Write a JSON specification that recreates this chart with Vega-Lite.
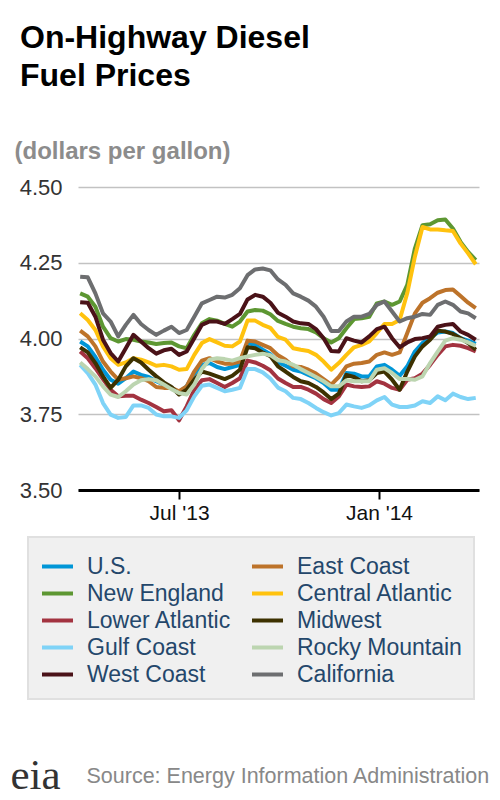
{
  "$schema": "https://vega.github.io/schema/vega-lite/v6.json",
  "width": 401,
  "height": 303,
  "autosize": {"type": "none"},
  "padding": {"left": 78, "top": 187, "right": 21, "bottom": 310},
  "background": "white",
  "title": {
    "text": ["On-Highway Diesel", "Fuel Prices"],
    "anchor": "start",
    "frame": "group",
    "dx": -58,
    "offset": 46,
    "font": "Liberation Sans",
    "fontSize": 32,
    "fontWeight": "bold",
    "color": "#000000",
    "lineHeight": 38
  },
  "datasets": {
    "prices": [
      {"date":"2013-04-01","region":"U.S.","price":3.990},{"date":"2013-04-08","region":"U.S.","price":3.974},{"date":"2013-04-15","region":"U.S.","price":3.939},{"date":"2013-04-22","region":"U.S.","price":3.897},{"date":"2013-04-29","region":"U.S.","price":3.864},{"date":"2013-05-06","region":"U.S.","price":3.851},{"date":"2013-05-13","region":"U.S.","price":3.869},{"date":"2013-05-20","region":"U.S.","price":3.891},{"date":"2013-05-27","region":"U.S.","price":3.880},{"date":"2013-06-03","region":"U.S.","price":3.873},{"date":"2013-06-10","region":"U.S.","price":3.859},{"date":"2013-06-17","region":"U.S.","price":3.848},{"date":"2013-06-24","region":"U.S.","price":3.837},{"date":"2013-07-01","region":"U.S.","price":3.822},{"date":"2013-07-08","region":"U.S.","price":3.842},{"date":"2013-07-15","region":"U.S.","price":3.884},{"date":"2013-07-22","region":"U.S.","price":3.913},{"date":"2013-07-29","region":"U.S.","price":3.919},{"date":"2013-08-05","region":"U.S.","price":3.906},{"date":"2013-08-12","region":"U.S.","price":3.899},{"date":"2013-08-19","region":"U.S.","price":3.906},{"date":"2013-08-26","region":"U.S.","price":3.913},{"date":"2013-09-02","region":"U.S.","price":3.985},{"date":"2013-09-09","region":"U.S.","price":3.979},{"date":"2013-09-16","region":"U.S.","price":3.963},{"date":"2013-09-23","region":"U.S.","price":3.948},{"date":"2013-09-30","region":"U.S.","price":3.922},{"date":"2013-10-07","region":"U.S.","price":3.910},{"date":"2013-10-14","region":"U.S.","price":3.897},{"date":"2013-10-21","region":"U.S.","price":3.891},{"date":"2013-10-28","region":"U.S.","price":3.880},{"date":"2013-11-04","region":"U.S.","price":3.869},{"date":"2013-11-11","region":"U.S.","price":3.853},{"date":"2013-11-18","region":"U.S.","price":3.831},{"date":"2013-11-25","region":"U.S.","price":3.831},{"date":"2013-12-02","region":"U.S.","price":3.886},{"date":"2013-12-09","region":"U.S.","price":3.884},{"date":"2013-12-16","region":"U.S.","price":3.875},{"date":"2013-12-23","region":"U.S.","price":3.875},{"date":"2013-12-30","region":"U.S.","price":3.908},{"date":"2014-01-06","region":"U.S.","price":3.913},{"date":"2014-01-13","region":"U.S.","price":3.897},{"date":"2014-01-20","region":"U.S.","price":3.877},{"date":"2014-01-27","region":"U.S.","price":3.908},{"date":"2014-02-03","region":"U.S.","price":3.957},{"date":"2014-02-10","region":"U.S.","price":3.985},{"date":"2014-02-17","region":"U.S.","price":4.001},{"date":"2014-02-24","region":"U.S.","price":4.020},{"date":"2014-03-03","region":"U.S.","price":4.023},{"date":"2014-03-10","region":"U.S.","price":4.018},{"date":"2014-03-17","region":"U.S.","price":4.001},{"date":"2014-03-24","region":"U.S.","price":3.993},{"date":"2014-03-31","region":"U.S.","price":3.982},
      {"date":"2013-04-01","region":"East Coast","price":4.026},{"date":"2013-04-08","region":"East Coast","price":4.007},{"date":"2013-04-15","region":"East Coast","price":3.974},{"date":"2013-04-22","region":"East Coast","price":3.924},{"date":"2013-04-29","region":"East Coast","price":3.891},{"date":"2013-05-06","region":"East Coast","price":3.864},{"date":"2013-05-13","region":"East Coast","price":3.869},{"date":"2013-05-20","region":"East Coast","price":3.875},{"date":"2013-05-27","region":"East Coast","price":3.869},{"date":"2013-06-03","region":"East Coast","price":3.859},{"date":"2013-06-10","region":"East Coast","price":3.840},{"date":"2013-06-17","region":"East Coast","price":3.837},{"date":"2013-06-24","region":"East Coast","price":3.837},{"date":"2013-07-01","region":"East Coast","price":3.826},{"date":"2013-07-08","region":"East Coast","price":3.842},{"date":"2013-07-15","region":"East Coast","price":3.891},{"date":"2013-07-22","region":"East Coast","price":3.927},{"date":"2013-07-29","region":"East Coast","price":3.935},{"date":"2013-08-05","region":"East Coast","price":3.924},{"date":"2013-08-12","region":"East Coast","price":3.917},{"date":"2013-08-19","region":"East Coast","price":3.917},{"date":"2013-08-26","region":"East Coast","price":3.924},{"date":"2013-09-02","region":"East Coast","price":3.993},{"date":"2013-09-09","region":"East Coast","price":3.990},{"date":"2013-09-16","region":"East Coast","price":3.979},{"date":"2013-09-23","region":"East Coast","price":3.968},{"date":"2013-09-30","region":"East Coast","price":3.945},{"date":"2013-10-07","region":"East Coast","price":3.930},{"date":"2013-10-14","region":"East Coast","price":3.908},{"date":"2013-10-21","region":"East Coast","price":3.906},{"date":"2013-10-28","region":"East Coast","price":3.897},{"date":"2013-11-04","region":"East Coast","price":3.884},{"date":"2013-11-11","region":"East Coast","price":3.866},{"date":"2013-11-18","region":"East Coast","price":3.848},{"date":"2013-11-25","region":"East Coast","price":3.873},{"date":"2013-12-02","region":"East Coast","price":3.908},{"date":"2013-12-09","region":"East Coast","price":3.917},{"date":"2013-12-16","region":"East Coast","price":3.919},{"date":"2013-12-23","region":"East Coast","price":3.924},{"date":"2013-12-30","region":"East Coast","price":3.946},{"date":"2014-01-06","region":"East Coast","price":3.954},{"date":"2014-01-13","region":"East Coast","price":3.946},{"date":"2014-01-20","region":"East Coast","price":3.954},{"date":"2014-01-27","region":"East Coast","price":4.018},{"date":"2014-02-03","region":"East Coast","price":4.083},{"date":"2014-02-10","region":"East Coast","price":4.118},{"date":"2014-02-17","region":"East Coast","price":4.133},{"date":"2014-02-24","region":"East Coast","price":4.151},{"date":"2014-03-03","region":"East Coast","price":4.160},{"date":"2014-03-10","region":"East Coast","price":4.162},{"date":"2014-03-17","region":"East Coast","price":4.140},{"date":"2014-03-24","region":"East Coast","price":4.118},{"date":"2014-03-31","region":"East Coast","price":4.100},
      {"date":"2013-04-01","region":"New England","price":4.149},{"date":"2013-04-08","region":"New England","price":4.138},{"date":"2013-04-15","region":"New England","price":4.105},{"date":"2013-04-22","region":"New England","price":4.039},{"date":"2013-04-29","region":"New England","price":4.001},{"date":"2013-05-06","region":"New England","price":3.990},{"date":"2013-05-13","region":"New England","price":3.998},{"date":"2013-05-20","region":"New England","price":3.996},{"date":"2013-05-27","region":"New England","price":3.990},{"date":"2013-06-03","region":"New England","price":3.987},{"date":"2013-06-10","region":"New England","price":3.982},{"date":"2013-06-17","region":"New England","price":3.985},{"date":"2013-06-24","region":"New England","price":3.987},{"date":"2013-07-01","region":"New England","price":3.974},{"date":"2013-07-08","region":"New England","price":3.968},{"date":"2013-07-15","region":"New England","price":4.012},{"date":"2013-07-22","region":"New England","price":4.050},{"date":"2013-07-29","region":"New England","price":4.064},{"date":"2013-08-05","region":"New England","price":4.059},{"date":"2013-08-12","region":"New England","price":4.048},{"date":"2013-08-19","region":"New England","price":4.039},{"date":"2013-08-26","region":"New England","price":4.056},{"date":"2013-09-02","region":"New England","price":4.089},{"date":"2013-09-09","region":"New England","price":4.094},{"date":"2013-09-16","region":"New England","price":4.092},{"date":"2013-09-23","region":"New England","price":4.080},{"date":"2013-09-30","region":"New England","price":4.058},{"date":"2013-10-07","region":"New England","price":4.048},{"date":"2013-10-14","region":"New England","price":4.039},{"date":"2013-10-21","region":"New England","price":4.034},{"date":"2013-10-28","region":"New England","price":4.031},{"date":"2013-11-04","region":"New England","price":4.020},{"date":"2013-11-11","region":"New England","price":4.001},{"date":"2013-11-18","region":"New England","price":3.987},{"date":"2013-11-25","region":"New England","price":4.001},{"date":"2013-12-02","region":"New England","price":4.034},{"date":"2013-12-09","region":"New England","price":4.064},{"date":"2013-12-16","region":"New England","price":4.067},{"date":"2013-12-23","region":"New England","price":4.072},{"date":"2013-12-30","region":"New England","price":4.116},{"date":"2014-01-06","region":"New England","price":4.122},{"date":"2014-01-13","region":"New England","price":4.111},{"date":"2014-01-20","region":"New England","price":4.122},{"date":"2014-01-27","region":"New England","price":4.177},{"date":"2014-02-03","region":"New England","price":4.297},{"date":"2014-02-10","region":"New England","price":4.374},{"date":"2014-02-17","region":"New England","price":4.377},{"date":"2014-02-24","region":"New England","price":4.390},{"date":"2014-03-03","region":"New England","price":4.393},{"date":"2014-03-10","region":"New England","price":4.363},{"date":"2014-03-17","region":"New England","price":4.319},{"date":"2014-03-24","region":"New England","price":4.286},{"date":"2014-03-31","region":"New England","price":4.259},
      {"date":"2013-04-01","region":"Central Atlantic","price":4.083},{"date":"2013-04-08","region":"Central Atlantic","price":4.061},{"date":"2013-04-15","region":"Central Atlantic","price":4.028},{"date":"2013-04-22","region":"Central Atlantic","price":3.974},{"date":"2013-04-29","region":"Central Atlantic","price":3.935},{"date":"2013-05-06","region":"Central Atlantic","price":3.913},{"date":"2013-05-13","region":"Central Atlantic","price":3.921},{"date":"2013-05-20","region":"Central Atlantic","price":3.935},{"date":"2013-05-27","region":"Central Atlantic","price":3.930},{"date":"2013-06-03","region":"Central Atlantic","price":3.921},{"date":"2013-06-10","region":"Central Atlantic","price":3.910},{"date":"2013-06-17","region":"Central Atlantic","price":3.913},{"date":"2013-06-24","region":"Central Atlantic","price":3.908},{"date":"2013-07-01","region":"Central Atlantic","price":3.897},{"date":"2013-07-08","region":"Central Atlantic","price":3.899},{"date":"2013-07-15","region":"Central Atlantic","price":3.946},{"date":"2013-07-22","region":"Central Atlantic","price":3.985},{"date":"2013-07-29","region":"Central Atlantic","price":3.998},{"date":"2013-08-05","region":"Central Atlantic","price":3.987},{"date":"2013-08-12","region":"Central Atlantic","price":3.976},{"date":"2013-08-19","region":"Central Atlantic","price":3.974},{"date":"2013-08-26","region":"Central Atlantic","price":3.990},{"date":"2013-09-02","region":"Central Atlantic","price":4.059},{"date":"2013-09-09","region":"Central Atlantic","price":4.059},{"date":"2013-09-16","region":"Central Atlantic","price":4.045},{"date":"2013-09-23","region":"Central Atlantic","price":4.035},{"date":"2013-09-30","region":"Central Atlantic","price":4.005},{"date":"2013-10-07","region":"Central Atlantic","price":3.996},{"date":"2013-10-14","region":"Central Atlantic","price":3.968},{"date":"2013-10-21","region":"Central Atlantic","price":3.963},{"date":"2013-10-28","region":"Central Atlantic","price":3.959},{"date":"2013-11-04","region":"Central Atlantic","price":3.946},{"date":"2013-11-11","region":"Central Atlantic","price":3.924},{"date":"2013-11-18","region":"Central Atlantic","price":3.897},{"date":"2013-11-25","region":"Central Atlantic","price":3.919},{"date":"2013-12-02","region":"Central Atlantic","price":3.946},{"date":"2013-12-09","region":"Central Atlantic","price":3.971},{"date":"2013-12-16","region":"Central Atlantic","price":3.979},{"date":"2013-12-23","region":"Central Atlantic","price":3.990},{"date":"2013-12-30","region":"Central Atlantic","price":4.018},{"date":"2014-01-06","region":"Central Atlantic","price":4.048},{"date":"2014-01-13","region":"Central Atlantic","price":4.048},{"date":"2014-01-20","region":"Central Atlantic","price":4.061},{"date":"2014-01-27","region":"Central Atlantic","price":4.150},{"date":"2014-02-03","region":"Central Atlantic","price":4.270},{"date":"2014-02-10","region":"Central Atlantic","price":4.368},{"date":"2014-02-17","region":"Central Atlantic","price":4.360},{"date":"2014-02-24","region":"Central Atlantic","price":4.360},{"date":"2014-03-03","region":"Central Atlantic","price":4.357},{"date":"2014-03-10","region":"Central Atlantic","price":4.355},{"date":"2014-03-17","region":"Central Atlantic","price":4.314},{"date":"2014-03-24","region":"Central Atlantic","price":4.281},{"date":"2014-03-31","region":"Central Atlantic","price":4.245},
      {"date":"2013-04-01","region":"Lower Atlantic","price":3.957},{"date":"2013-04-08","region":"Lower Atlantic","price":3.935},{"date":"2013-04-15","region":"Lower Atlantic","price":3.902},{"date":"2013-04-22","region":"Lower Atlantic","price":3.866},{"date":"2013-04-29","region":"Lower Atlantic","price":3.831},{"date":"2013-05-06","region":"Lower Atlantic","price":3.809},{"date":"2013-05-13","region":"Lower Atlantic","price":3.811},{"date":"2013-05-20","region":"Lower Atlantic","price":3.811},{"date":"2013-05-27","region":"Lower Atlantic","price":3.798},{"date":"2013-06-03","region":"Lower Atlantic","price":3.787},{"date":"2013-06-10","region":"Lower Atlantic","price":3.774},{"date":"2013-06-17","region":"Lower Atlantic","price":3.760},{"date":"2013-06-24","region":"Lower Atlantic","price":3.763},{"date":"2013-07-01","region":"Lower Atlantic","price":3.730},{"date":"2013-07-08","region":"Lower Atlantic","price":3.776},{"date":"2013-07-15","region":"Lower Atlantic","price":3.831},{"date":"2013-07-22","region":"Lower Atlantic","price":3.862},{"date":"2013-07-29","region":"Lower Atlantic","price":3.866},{"date":"2013-08-05","region":"Lower Atlantic","price":3.853},{"date":"2013-08-12","region":"Lower Atlantic","price":3.840},{"date":"2013-08-19","region":"Lower Atlantic","price":3.853},{"date":"2013-08-26","region":"Lower Atlantic","price":3.869},{"date":"2013-09-02","region":"Lower Atlantic","price":3.927},{"date":"2013-09-09","region":"Lower Atlantic","price":3.921},{"date":"2013-09-16","region":"Lower Atlantic","price":3.910},{"date":"2013-09-23","region":"Lower Atlantic","price":3.895},{"date":"2013-09-30","region":"Lower Atlantic","price":3.868},{"date":"2013-10-07","region":"Lower Atlantic","price":3.853},{"date":"2013-10-14","region":"Lower Atlantic","price":3.840},{"date":"2013-10-21","region":"Lower Atlantic","price":3.840},{"date":"2013-10-28","region":"Lower Atlantic","price":3.831},{"date":"2013-11-04","region":"Lower Atlantic","price":3.818},{"date":"2013-11-11","region":"Lower Atlantic","price":3.800},{"date":"2013-11-18","region":"Lower Atlantic","price":3.787},{"date":"2013-11-25","region":"Lower Atlantic","price":3.809},{"date":"2013-12-02","region":"Lower Atlantic","price":3.848},{"date":"2013-12-09","region":"Lower Atlantic","price":3.842},{"date":"2013-12-16","region":"Lower Atlantic","price":3.840},{"date":"2013-12-23","region":"Lower Atlantic","price":3.842},{"date":"2013-12-30","region":"Lower Atlantic","price":3.859},{"date":"2014-01-06","region":"Lower Atlantic","price":3.851},{"date":"2014-01-13","region":"Lower Atlantic","price":3.837},{"date":"2014-01-20","region":"Lower Atlantic","price":3.831},{"date":"2014-01-27","region":"Lower Atlantic","price":3.864},{"date":"2014-02-03","region":"Lower Atlantic","price":3.869},{"date":"2014-02-10","region":"Lower Atlantic","price":3.884},{"date":"2014-02-17","region":"Lower Atlantic","price":3.913},{"date":"2014-02-24","region":"Lower Atlantic","price":3.946},{"date":"2014-03-03","region":"Lower Atlantic","price":3.974},{"date":"2014-03-10","region":"Lower Atlantic","price":3.979},{"date":"2014-03-17","region":"Lower Atlantic","price":3.976},{"date":"2014-03-24","region":"Lower Atlantic","price":3.968},{"date":"2014-03-31","region":"Lower Atlantic","price":3.957},
      {"date":"2013-04-01","region":"Midwest","price":3.971},{"date":"2013-04-08","region":"Midwest","price":3.954},{"date":"2013-04-15","region":"Midwest","price":3.919},{"date":"2013-04-22","region":"Midwest","price":3.875},{"date":"2013-04-29","region":"Midwest","price":3.837},{"date":"2013-05-06","region":"Midwest","price":3.864},{"date":"2013-05-13","region":"Midwest","price":3.908},{"date":"2013-05-20","region":"Midwest","price":3.935},{"date":"2013-05-27","region":"Midwest","price":3.921},{"date":"2013-06-03","region":"Midwest","price":3.897},{"date":"2013-06-10","region":"Midwest","price":3.875},{"date":"2013-06-17","region":"Midwest","price":3.855},{"date":"2013-06-24","region":"Midwest","price":3.840},{"date":"2013-07-01","region":"Midwest","price":3.815},{"date":"2013-07-08","region":"Midwest","price":3.831},{"date":"2013-07-15","region":"Midwest","price":3.864},{"date":"2013-07-22","region":"Midwest","price":3.891},{"date":"2013-07-29","region":"Midwest","price":3.884},{"date":"2013-08-05","region":"Midwest","price":3.875},{"date":"2013-08-12","region":"Midwest","price":3.866},{"date":"2013-08-19","region":"Midwest","price":3.877},{"date":"2013-08-26","region":"Midwest","price":3.897},{"date":"2013-09-02","region":"Midwest","price":3.971},{"date":"2013-09-09","region":"Midwest","price":3.968},{"date":"2013-09-16","region":"Midwest","price":3.954},{"date":"2013-09-23","region":"Midwest","price":3.942},{"date":"2013-09-30","region":"Midwest","price":3.908},{"date":"2013-10-07","region":"Midwest","price":3.891},{"date":"2013-10-14","region":"Midwest","price":3.873},{"date":"2013-10-21","region":"Midwest","price":3.859},{"date":"2013-10-28","region":"Midwest","price":3.853},{"date":"2013-11-04","region":"Midwest","price":3.840},{"date":"2013-11-11","region":"Midwest","price":3.822},{"date":"2013-11-18","region":"Midwest","price":3.800},{"date":"2013-11-25","region":"Midwest","price":3.818},{"date":"2013-12-02","region":"Midwest","price":3.880},{"date":"2013-12-09","region":"Midwest","price":3.873},{"date":"2013-12-16","region":"Midwest","price":3.859},{"date":"2013-12-23","region":"Midwest","price":3.862},{"date":"2013-12-30","region":"Midwest","price":3.886},{"date":"2014-01-06","region":"Midwest","price":3.891},{"date":"2014-01-13","region":"Midwest","price":3.864},{"date":"2014-01-20","region":"Midwest","price":3.831},{"date":"2014-01-27","region":"Midwest","price":3.891},{"date":"2014-02-03","region":"Midwest","price":3.941},{"date":"2014-02-10","region":"Midwest","price":3.974},{"date":"2014-02-17","region":"Midwest","price":3.996},{"date":"2014-02-24","region":"Midwest","price":4.026},{"date":"2014-03-03","region":"Midwest","price":4.023},{"date":"2014-03-10","region":"Midwest","price":4.015},{"date":"2014-03-17","region":"Midwest","price":4.001},{"date":"2014-03-24","region":"Midwest","price":3.985},{"date":"2014-03-31","region":"Midwest","price":3.963},
      {"date":"2013-04-01","region":"Gulf Coast","price":3.913},{"date":"2013-04-08","region":"Gulf Coast","price":3.886},{"date":"2013-04-15","region":"Gulf Coast","price":3.848},{"date":"2013-04-22","region":"Gulf Coast","price":3.787},{"date":"2013-04-29","region":"Gulf Coast","price":3.749},{"date":"2013-05-06","region":"Gulf Coast","price":3.738},{"date":"2013-05-13","region":"Gulf Coast","price":3.741},{"date":"2013-05-20","region":"Gulf Coast","price":3.779},{"date":"2013-05-27","region":"Gulf Coast","price":3.779},{"date":"2013-06-03","region":"Gulf Coast","price":3.771},{"date":"2013-06-10","region":"Gulf Coast","price":3.749},{"date":"2013-06-17","region":"Gulf Coast","price":3.743},{"date":"2013-06-24","region":"Gulf Coast","price":3.743},{"date":"2013-07-01","region":"Gulf Coast","price":3.738},{"date":"2013-07-08","region":"Gulf Coast","price":3.763},{"date":"2013-07-15","region":"Gulf Coast","price":3.809},{"date":"2013-07-22","region":"Gulf Coast","price":3.844},{"date":"2013-07-29","region":"Gulf Coast","price":3.848},{"date":"2013-08-05","region":"Gulf Coast","price":3.837},{"date":"2013-08-12","region":"Gulf Coast","price":3.826},{"date":"2013-08-19","region":"Gulf Coast","price":3.831},{"date":"2013-08-26","region":"Gulf Coast","price":3.837},{"date":"2013-09-02","region":"Gulf Coast","price":3.899},{"date":"2013-09-09","region":"Gulf Coast","price":3.899},{"date":"2013-09-16","region":"Gulf Coast","price":3.888},{"date":"2013-09-23","region":"Gulf Coast","price":3.868},{"date":"2013-09-30","region":"Gulf Coast","price":3.838},{"date":"2013-10-07","region":"Gulf Coast","price":3.826},{"date":"2013-10-14","region":"Gulf Coast","price":3.804},{"date":"2013-10-21","region":"Gulf Coast","price":3.800},{"date":"2013-10-28","region":"Gulf Coast","price":3.787},{"date":"2013-11-04","region":"Gulf Coast","price":3.771},{"date":"2013-11-11","region":"Gulf Coast","price":3.757},{"date":"2013-11-18","region":"Gulf Coast","price":3.746},{"date":"2013-11-25","region":"Gulf Coast","price":3.754},{"date":"2013-12-02","region":"Gulf Coast","price":3.782},{"date":"2013-12-09","region":"Gulf Coast","price":3.776},{"date":"2013-12-16","region":"Gulf Coast","price":3.771},{"date":"2013-12-23","region":"Gulf Coast","price":3.779},{"date":"2013-12-30","region":"Gulf Coast","price":3.796},{"date":"2014-01-06","region":"Gulf Coast","price":3.807},{"date":"2014-01-13","region":"Gulf Coast","price":3.782},{"date":"2014-01-20","region":"Gulf Coast","price":3.774},{"date":"2014-01-27","region":"Gulf Coast","price":3.774},{"date":"2014-02-03","region":"Gulf Coast","price":3.779},{"date":"2014-02-10","region":"Gulf Coast","price":3.793},{"date":"2014-02-17","region":"Gulf Coast","price":3.787},{"date":"2014-02-24","region":"Gulf Coast","price":3.809},{"date":"2014-03-03","region":"Gulf Coast","price":3.796},{"date":"2014-03-10","region":"Gulf Coast","price":3.818},{"date":"2014-03-17","region":"Gulf Coast","price":3.807},{"date":"2014-03-24","region":"Gulf Coast","price":3.800},{"date":"2014-03-31","region":"Gulf Coast","price":3.804},
      {"date":"2013-04-01","region":"Rocky Mountain","price":3.921},{"date":"2013-04-08","region":"Rocky Mountain","price":3.899},{"date":"2013-04-15","region":"Rocky Mountain","price":3.875},{"date":"2013-04-22","region":"Rocky Mountain","price":3.842},{"date":"2013-04-29","region":"Rocky Mountain","price":3.815},{"date":"2013-05-06","region":"Rocky Mountain","price":3.807},{"date":"2013-05-13","region":"Rocky Mountain","price":3.826},{"date":"2013-05-20","region":"Rocky Mountain","price":3.848},{"date":"2013-05-27","region":"Rocky Mountain","price":3.862},{"date":"2013-06-03","region":"Rocky Mountain","price":3.866},{"date":"2013-06-10","region":"Rocky Mountain","price":3.862},{"date":"2013-06-17","region":"Rocky Mountain","price":3.848},{"date":"2013-06-24","region":"Rocky Mountain","price":3.833},{"date":"2013-07-01","region":"Rocky Mountain","price":3.820},{"date":"2013-07-08","region":"Rocky Mountain","price":3.815},{"date":"2013-07-15","region":"Rocky Mountain","price":3.848},{"date":"2013-07-22","region":"Rocky Mountain","price":3.899},{"date":"2013-07-29","region":"Rocky Mountain","price":3.930},{"date":"2013-08-05","region":"Rocky Mountain","price":3.935},{"date":"2013-08-12","region":"Rocky Mountain","price":3.932},{"date":"2013-08-19","region":"Rocky Mountain","price":3.927},{"date":"2013-08-26","region":"Rocky Mountain","price":3.935},{"date":"2013-09-02","region":"Rocky Mountain","price":3.941},{"date":"2013-09-09","region":"Rocky Mountain","price":3.946},{"date":"2013-09-16","region":"Rocky Mountain","price":3.950},{"date":"2013-09-23","region":"Rocky Mountain","price":3.945},{"date":"2013-09-30","region":"Rocky Mountain","price":3.928},{"date":"2013-10-07","region":"Rocky Mountain","price":3.924},{"date":"2013-10-14","region":"Rocky Mountain","price":3.913},{"date":"2013-10-21","region":"Rocky Mountain","price":3.899},{"date":"2013-10-28","region":"Rocky Mountain","price":3.886},{"date":"2013-11-04","region":"Rocky Mountain","price":3.873},{"date":"2013-11-11","region":"Rocky Mountain","price":3.859},{"date":"2013-11-18","region":"Rocky Mountain","price":3.842},{"date":"2013-11-25","region":"Rocky Mountain","price":3.842},{"date":"2013-12-02","region":"Rocky Mountain","price":3.862},{"date":"2013-12-09","region":"Rocky Mountain","price":3.859},{"date":"2013-12-16","region":"Rocky Mountain","price":3.859},{"date":"2013-12-23","region":"Rocky Mountain","price":3.859},{"date":"2013-12-30","region":"Rocky Mountain","price":3.897},{"date":"2014-01-06","region":"Rocky Mountain","price":3.902},{"date":"2014-01-13","region":"Rocky Mountain","price":3.886},{"date":"2014-01-20","region":"Rocky Mountain","price":3.866},{"date":"2014-01-27","region":"Rocky Mountain","price":3.866},{"date":"2014-02-03","region":"Rocky Mountain","price":3.864},{"date":"2014-02-10","region":"Rocky Mountain","price":3.875},{"date":"2014-02-17","region":"Rocky Mountain","price":3.919},{"date":"2014-02-24","region":"Rocky Mountain","price":3.957},{"date":"2014-03-03","region":"Rocky Mountain","price":3.993},{"date":"2014-03-10","region":"Rocky Mountain","price":4.001},{"date":"2014-03-17","region":"Rocky Mountain","price":3.996},{"date":"2014-03-24","region":"Rocky Mountain","price":3.987},{"date":"2014-03-31","region":"Rocky Mountain","price":3.976},
      {"date":"2013-04-01","region":"West Coast","price":4.120},{"date":"2013-04-08","region":"West Coast","price":4.118},{"date":"2013-04-15","region":"West Coast","price":4.072},{"date":"2013-04-22","region":"West Coast","price":3.996},{"date":"2013-04-29","region":"West Coast","price":3.952},{"date":"2013-05-06","region":"West Coast","price":3.924},{"date":"2013-05-13","region":"West Coast","price":3.968},{"date":"2013-05-20","region":"West Coast","price":4.012},{"date":"2013-05-27","region":"West Coast","price":3.990},{"date":"2013-06-03","region":"West Coast","price":3.968},{"date":"2013-06-10","region":"West Coast","price":3.950},{"date":"2013-06-17","region":"West Coast","price":3.961},{"date":"2013-06-24","region":"West Coast","price":3.966},{"date":"2013-07-01","region":"West Coast","price":3.946},{"date":"2013-07-08","region":"West Coast","price":3.957},{"date":"2013-07-15","region":"West Coast","price":4.001},{"date":"2013-07-22","region":"West Coast","price":4.045},{"date":"2013-07-29","region":"West Coast","price":4.056},{"date":"2013-08-05","region":"West Coast","price":4.056},{"date":"2013-08-12","region":"West Coast","price":4.048},{"date":"2013-08-19","region":"West Coast","price":4.064},{"date":"2013-08-26","region":"West Coast","price":4.081},{"date":"2013-09-02","region":"West Coast","price":4.129},{"date":"2013-09-09","region":"West Coast","price":4.144},{"date":"2013-09-16","region":"West Coast","price":4.138},{"date":"2013-09-23","region":"West Coast","price":4.118},{"date":"2013-09-30","region":"West Coast","price":4.085},{"date":"2013-10-07","region":"West Coast","price":4.072},{"date":"2013-10-14","region":"West Coast","price":4.056},{"date":"2013-10-21","region":"West Coast","price":4.050},{"date":"2013-10-28","region":"West Coast","price":4.048},{"date":"2013-11-04","region":"West Coast","price":4.031},{"date":"2013-11-11","region":"West Coast","price":4.001},{"date":"2013-11-18","region":"West Coast","price":3.959},{"date":"2013-11-25","region":"West Coast","price":3.957},{"date":"2013-12-02","region":"West Coast","price":4.001},{"date":"2013-12-09","region":"West Coast","price":3.993},{"date":"2013-12-16","region":"West Coast","price":3.987},{"date":"2013-12-23","region":"West Coast","price":4.007},{"date":"2013-12-30","region":"West Coast","price":4.031},{"date":"2014-01-06","region":"West Coast","price":4.039},{"date":"2014-01-13","region":"West Coast","price":4.001},{"date":"2014-01-20","region":"West Coast","price":3.971},{"date":"2014-01-27","region":"West Coast","price":3.987},{"date":"2014-02-03","region":"West Coast","price":3.998},{"date":"2014-02-10","region":"West Coast","price":4.001},{"date":"2014-02-17","region":"West Coast","price":4.007},{"date":"2014-02-24","region":"West Coast","price":4.039},{"date":"2014-03-03","region":"West Coast","price":4.045},{"date":"2014-03-10","region":"West Coast","price":4.048},{"date":"2014-03-17","region":"West Coast","price":4.023},{"date":"2014-03-24","region":"West Coast","price":4.012},{"date":"2014-03-31","region":"West Coast","price":3.996},
      {"date":"2013-04-01","region":"California","price":4.204},{"date":"2013-04-08","region":"California","price":4.202},{"date":"2013-04-15","region":"California","price":4.149},{"date":"2013-04-22","region":"California","price":4.083},{"date":"2013-04-29","region":"California","price":4.056},{"date":"2013-05-06","region":"California","price":4.007},{"date":"2013-05-13","region":"California","price":4.045},{"date":"2013-05-20","region":"California","price":4.078},{"date":"2013-05-27","region":"California","price":4.048},{"date":"2013-06-03","region":"California","price":4.028},{"date":"2013-06-10","region":"California","price":4.012},{"date":"2013-06-17","region":"California","price":4.026},{"date":"2013-06-24","region":"California","price":4.039},{"date":"2013-07-01","region":"California","price":4.018},{"date":"2013-07-08","region":"California","price":4.028},{"date":"2013-07-15","region":"California","price":4.072},{"date":"2013-07-22","region":"California","price":4.116},{"date":"2013-07-29","region":"California","price":4.127},{"date":"2013-08-05","region":"California","price":4.138},{"date":"2013-08-12","region":"California","price":4.135},{"date":"2013-08-19","region":"California","price":4.144},{"date":"2013-08-26","region":"California","price":4.166},{"date":"2013-09-02","region":"California","price":4.209},{"date":"2013-09-09","region":"California","price":4.228},{"date":"2013-09-16","region":"California","price":4.231},{"date":"2013-09-23","region":"California","price":4.225},{"date":"2013-09-30","region":"California","price":4.195},{"date":"2013-10-07","region":"California","price":4.177},{"date":"2013-10-14","region":"California","price":4.149},{"date":"2013-10-21","region":"California","price":4.138},{"date":"2013-10-28","region":"California","price":4.125},{"date":"2013-11-04","region":"California","price":4.105},{"date":"2013-11-11","region":"California","price":4.072},{"date":"2013-11-18","region":"California","price":4.025},{"date":"2013-11-25","region":"California","price":4.025},{"date":"2013-12-02","region":"California","price":4.056},{"date":"2013-12-09","region":"California","price":4.072},{"date":"2013-12-16","region":"California","price":4.072},{"date":"2013-12-23","region":"California","price":4.081},{"date":"2013-12-30","region":"California","price":4.111},{"date":"2014-01-06","region":"California","price":4.122},{"date":"2014-01-13","region":"California","price":4.089},{"date":"2014-01-20","region":"California","price":4.056},{"date":"2014-01-27","region":"California","price":4.067},{"date":"2014-02-03","region":"California","price":4.072},{"date":"2014-02-10","region":"California","price":4.081},{"date":"2014-02-17","region":"California","price":4.078},{"date":"2014-02-24","region":"California","price":4.111},{"date":"2014-03-03","region":"California","price":4.122},{"date":"2014-03-10","region":"California","price":4.111},{"date":"2014-03-17","region":"California","price":4.089},{"date":"2014-03-24","region":"California","price":4.083},{"date":"2014-03-31","region":"California","price":4.067}
    ]
  },
  "data": {"name": "prices"},
  "layer": [
    {
      "mark": {"type": "line", "strokeWidth": 4, "strokeJoin": "round"},
      "encoding": {
        "x": {
          "field": "date",
          "type": "temporal",
          "scale": {"type": "utc", "domain": [{"year": 2013, "month": 3, "date": 30, "utc": true}, {"year": 2014, "month": 4, "date": 3, "utc": true}]},
          "axis": {
            "values": [{"year": 2013, "month": 7, "date": 1, "utc": true}, {"year": 2014, "month": 1, "date": 1, "utc": true}],
            "format": "%b '%y",
            "grid": false,
            "domainColor": "#000000",
            "domainWidth": 3,
            "tickColor": "#000000",
            "tickWidth": 2,
            "tickSize": 9,
            "labelFont": "Liberation Sans",
            "labelFontSize": 21,
            "labelColor": "#111111",
            "labelPadding": 3,
            "title": "Source: Energy Information Administration",
            "titleFont": "Liberation Sans",
            "titleFontSize": 21.5,
            "titleFontWeight": "normal",
            "titleColor": "#888888",
            "titleAlign": "left",
            "titleAnchor": "start",
            "titleBaseline": "alphabetic",
            "titleX": 8,
            "titleY": 292,
            "titleLimit": 1000
          }
        },
        "y": {
          "field": "price",
          "type": "quantitative",
          "scale": {"domain": [3.5, 4.5], "nice": false, "zero": false},
          "axis": {
            "values": [3.5, 3.75, 4, 4.25, 4.5],
            "format": ".2f",
            "grid": true,
            "gridColor": "#c2c2c2",
            "gridWidth": 1.5,
            "domain": false,
            "ticks": false,
            "labelFont": "Liberation Sans",
            "labelFontSize": 22,
            "labelColor": "#333333",
            "labelPadding": 16,
            "title": "(dollars per gallon)",
            "titleFont": "Liberation Sans",
            "titleFontSize": 24,
            "titleFontWeight": "bold",
            "titleColor": "#8c8c8c",
            "titleAngle": 0,
            "titleAlign": "left",
            "titleBaseline": "alphabetic",
            "titleX": -64,
            "titleY": -29,
            "titleLimit": 1000
          }
        },
        "color": {
          "field": "region",
          "type": "nominal",
          "scale": {
            "domain": ["U.S.", "East Coast", "New England", "Central Atlantic", "Lower Atlantic", "Midwest", "Gulf Coast", "Rocky Mountain", "West Coast", "California"],
            "range": ["#0096d7", "#bd732a", "#5d9732", "#ffc20e", "#a33340", "#3d3100", "#7fd3f7", "#bcd5b0", "#4a1218", "#6d6e70"]
          },
          "legend": {
            "title": null,
            "orient": "none",
            "legendX": -50,
            "legendY": 350,
            "columns": 2,
            "gridAlign": "none",
            "direction": "horizontal",
            "fillColor": "#f0f0f0",
            "strokeColor": "#e0e0e0",
            "padding": 12,
            "symbolType": "stroke",
            "symbolSize": 961,
            "symbolStrokeWidth": 4,
            "labelFont": "Liberation Sans",
            "labelFontSize": 23,
            "labelColor": "#24476b",
            "labelOffset": 12,
            "labelLimit": 300,
            "columnPadding": 12,
            "rowPadding": -3,
            "encode": {
              "legend": {"update": {"strokeWidth": {"value": 2}}}
            }
          }
        }
      }
    },
    {
      "mark": {"type": "line", "strokeOpacity": 0},
      "encoding": {
        "x": {
          "field": "date",
          "type": "temporal",
          "axis": {
            "orient": "bottom",
            "labels": false,
            "ticks": false,
            "domain": false,
            "grid": false,
            "title": "eia",
            "titleFont": "Liberation Serif",
            "titleFontSize": 43,
            "titleFontWeight": "normal",
            "titleColor": "#333333",
            "titleAlign": "left",
            "titleAnchor": "start",
            "titleBaseline": "alphabetic",
            "titleX": -68,
            "titleY": 298
          }
        },
        "y": {"field": "price", "type": "quantitative"},
        "detail": {"field": "region", "type": "nominal"}
      }
    }
  ],
  "resolve": {"axis": {"x": "independent"}},
  "config": {"view": {"stroke": null}}
}
